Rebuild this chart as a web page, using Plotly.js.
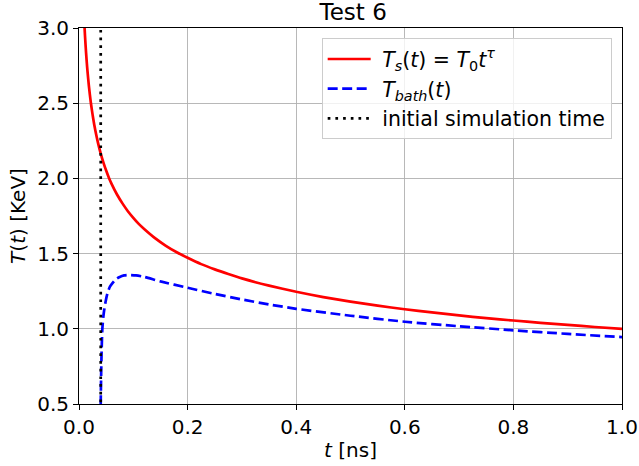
<!DOCTYPE html>
<html>
<head>
<meta charset="utf-8">
<script src="https://cdn.plot.ly/plotly-3.0.1.min.js"></script>
<style>html,body{margin:0;padding:0;background:#fff;}#chart{width:639px;height:466px;}</style>
</head>
<body>
<div id="chart"></div>
<script>
// Source temperature T_s(t) = T0 t^tau
const tSource = [0.0095, 0.010, 0.011, 0.012, 0.013, 0.014, 0.015, 0.016, 0.018, 0.020, 0.022, 0.025, 0.028, 0.030, 0.035, 0.040, 0.045, 0.050, 0.055, 0.060, 0.070, 0.080, 0.090, 0.100, 0.110, 0.120, 0.140, 0.160, 0.180, 0.200, 0.225, 0.250, 0.275, 0.300, 0.350, 0.400, 0.450, 0.500, 0.550, 0.600, 0.650, 0.700, 0.750, 0.800, 0.850, 0.900, 0.950, 1.000];
const TSource = [3.057, 3.020, 2.952, 2.891, 2.836, 2.786, 2.740, 2.698, 2.622, 2.557, 2.498, 2.424, 2.359, 2.320, 2.236, 2.165, 2.105, 2.052, 2.005, 1.964, 1.893, 1.834, 1.782, 1.738, 1.698, 1.664, 1.603, 1.552, 1.509, 1.472, 1.430, 1.395, 1.364, 1.335, 1.287, 1.246, 1.211, 1.181, 1.154, 1.130, 1.109, 1.089, 1.071, 1.055, 1.040, 1.026, 1.012, 1.000];

// Bath temperature T_bath(t)
const tBath = [0.0398, 0.0400, 0.0408, 0.0417, 0.0430, 0.0448, 0.0466, 0.0495, 0.0527, 0.0570, 0.0620, 0.0680, 0.0750, 0.0830, 0.0920, 0.105, 0.120, 0.150, 0.200, 0.250, 0.300, 0.350, 0.400, 0.500, 0.600, 0.700, 0.800, 0.900, 1.000];
const TBath = [0.30, 0.50, 0.70, 0.86, 1.00, 1.08, 1.13, 1.19, 1.24, 1.28, 1.305, 1.330, 1.345, 1.355, 1.358, 1.355, 1.345, 1.315, 1.273, 1.232, 1.195, 1.162, 1.133, 1.087, 1.047, 1.017, 0.990, 0.966, 0.945];

// Initial simulation time
const tInit = [0.04, 0.04];
const TInit = [0.0, 3.5];

// Legend labels
const legendNames = [
  '\u00a0<i>T<sub>s</sub></i>(<i>t</i>) = <i>T</i><sub>0</sub><i>t<sup>τ</sup></i>',
  '\u00a0<i>T<sub>bath</sub></i>(<i>t</i>)',
  '\u00a0initial simulation time'
];

const font = {family: 'DejaVu Sans, sans-serif', size: 20, color: '#000'};
const legendFont = {family: 'DejaVu Sans, sans-serif', size: 20.5, color: '#000'};

const traces = [
  {x: tSource, y: TSource, type: 'scatter', mode: 'lines', line: {color: '#ff0000', width: 2.7, shape: 'spline', smoothing: 0.5},
   name: legendNames[0]},
  {x: tBath, y: TBath, type: 'scatter', mode: 'lines', line: {color: '#0000ff', width: 2.7, dash: '10px,4.5px', shape: 'spline', smoothing: 0.6},
   name: legendNames[1]},
  {x: tInit, y: TInit, type: 'scatter', mode: 'lines', line: {color: '#000000', width: 2.7, dash: '2.7px,5px'},
   name: legendNames[2]}
];

const axisCommon = {
  showline: true, mirror: true, linecolor: '#000', linewidth: 1,
  ticks: 'outside', ticklen: 5, tickwidth: 1, tickcolor: '#000',
  showgrid: true, gridcolor: '#b0b0b0', gridwidth: 0.9,
  zeroline: false, tickfont: font, tickformat: '.1f'
};

const layout = {
  width: 639, height: 466,
  margin: {l: 79, r: 17, t: 28, b: 62},
  paper_bgcolor: '#fff', plot_bgcolor: '#fff',
  font: font,
  title: {text: 'Test 6', font: {family: 'DejaVu Sans, sans-serif', size: 23, color: '#000'},
          xref: 'paper', x: 0.505, xanchor: 'center', yref: 'paper', y: 1, yanchor: 'bottom', pad: {b: 8}},
  xaxis: Object.assign({}, axisCommon, {range: [0, 1], dtick: 0.2, tick0: 0,
    title: {text: '<i>t</i> [ns]', font: font, standoff: 4}}),
  yaxis: Object.assign({}, axisCommon, {range: [0.5, 3.0], dtick: 0.5, tick0: 0.5,
    title: {text: '<i>T</i>(<i>t</i>) [KeV]', font: font, standoff: 6}}),
  showlegend: true,
  legend: {x: 0.981, y: 0.973, xanchor: 'right', yanchor: 'top', bgcolor: 'rgba(255,255,255,0.8)', bordercolor: '#cccccc', borderwidth: 1,
           font: legendFont, tracegroupgap: 0, itemwidth: 43}
};

Plotly.newPlot('chart', traces, layout, {displayModeBar: false, staticPlot: true});
</script>
</body>
</html>
